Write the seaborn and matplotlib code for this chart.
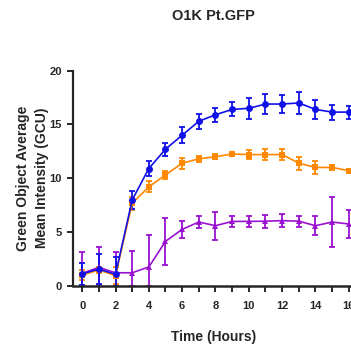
import numpy as np
import pandas as pd
import matplotlib
matplotlib.use("Agg")
import matplotlib.pyplot as plt
import seaborn as sns

hours = list(range(17))
blue_mean = [1.09, 1.55, 1.05, 7.97, 10.9, 12.7, 14.0, 15.3, 15.9, 16.4, 16.5, 16.9, 16.9, 17.0, 16.4, 16.15, 16.15]
blue_err = [1.0, 1.4, 1.6, 0.84, 0.7, 0.6, 0.75, 0.7, 0.65, 0.65, 1.0, 0.95, 0.85, 1.05, 0.9, 0.7, 0.6]
orange_mean = [0.99, 1.46, 0.93, 7.66, 9.2, 10.3, 11.4, 11.8, 12.0, 12.25, 12.2, 12.2, 12.2, 11.4, 11.0, 11.0, 10.7]
orange_err = [0.5, 0.3, 0.8, 0.6, 0.5, 0.4, 0.5, 0.3, 0.25, 0.2, 0.45, 0.55, 0.5, 0.6, 0.6, 0.2, 0.2]
purple_mean = [1.15, 1.7, 1.2, 1.2, 1.74, 4.12, 5.24, 5.92, 5.58, 5.98, 5.98, 6.0, 6.05, 6.0, 5.58, 5.92, 5.74]
purple_err = [1.95, 1.9, 1.9, 2.05, 3.0, 2.2, 0.8, 0.6, 1.3, 0.5, 0.5, 0.6, 0.6, 0.5, 0.9, 2.35, 1.3]

series = ["blue", "orange", "purple"]
colors = {"blue": "#1010e8", "orange": "#ff8800", "purple": "#9a10d0"}
markers = {"blue": "o", "orange": "s", "purple": "^"}
means = {"blue": blue_mean, "orange": orange_mean, "purple": purple_mean}
errs = {"blue": blue_err, "orange": orange_err, "purple": purple_err}

rows = []
for s in series:
    for h, m, e in zip(hours, means[s], errs[s]):
        rows.append({"Time": h, "Value": m, "Err": e, "Series": s})
df = pd.DataFrame(rows)

sns.set_style("ticks")
plt.rcParams["font.family"] = ["Liberation Sans", "DejaVu Sans"]
plt.rcParams["font.weight"] = "bold"

fig = plt.figure(figsize=(3.51, 3.45), dpi=100)
ax = fig.add_axes([0.208, 0.172, 0.80, 0.623])

for s in ["purple", "orange", "blue"]:
    d = df[df.Series == s]
    lo = np.minimum(d.Err.values, d.Value.values)
    ax.errorbar(d.Time, d.Value, yerr=[lo, d.Err.values], fmt="none",
                ecolor=colors[s], elinewidth=1.3, capsize=2, capthick=1.3,
                zorder=2, clip_on=False)

sns.lineplot(data=df, x="Time", y="Value", hue="Series", style="Series",
             palette=colors, markers=markers, dashes=False, ax=ax,
             linewidth=1.2, markersize=5, markeredgewidth=0,
             hue_order=["purple", "orange", "blue"], legend=False, zorder=3)

ax.set_xlim(-0.55, 16.3)
ax.set_ylim(0, 20)
ax.set_xticks([0, 2, 4, 6, 8, 10, 12, 14, 16])
ax.set_xticks(list(range(17)), minor=True)
ax.set_yticks([0, 5, 10, 15, 20])
for sp in ["top", "right"]:
    ax.spines[sp].set_visible(False)
ax.spines["left"].set_linewidth(1.6)
ax.spines["bottom"].set_linewidth(1.8)
ax.tick_params(axis="both", which="major", length=4, width=1.4, labelsize=8, direction="out")
ax.tick_params(axis="x", which="major", pad=7)
ax.tick_params(axis="y", which="major", pad=4)
ax.tick_params(axis="x", which="minor", length=4, width=1.4, direction="out")
for lab in ax.get_xticklabels() + ax.get_yticklabels():
    lab.set_fontweight("bold")

ax.set_xlabel("Time (Hours)", fontsize=10, fontweight="bold", labelpad=14)
ax.set_ylabel("Green Object Average\nMean Intensity (GCU)", fontsize=10, fontweight="bold",
              labelpad=0, linespacing=1.5)
fig.text(0.607, 0.953, "O1K Pt.GFP", ha="center", va="center", fontsize=10.5, fontweight="bold")

fig.savefig("out.png", dpi=100)
